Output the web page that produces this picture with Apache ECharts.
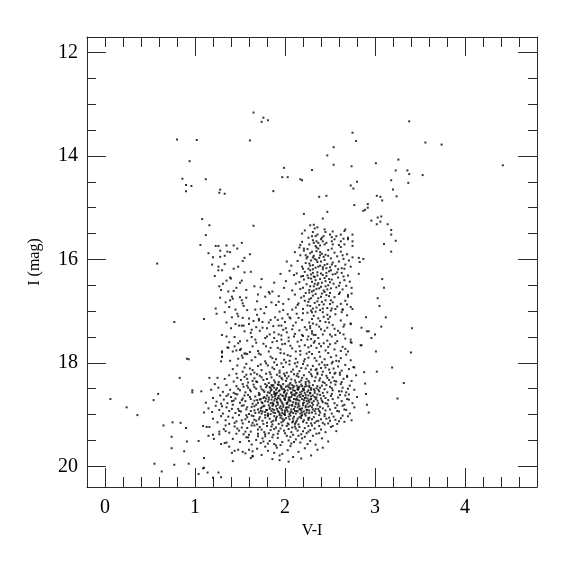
<!DOCTYPE html>
<html><head><meta charset="utf-8">
<script src="https://cdn.jsdelivr.net/npm/echarts@6/dist/echarts.min.js"></script>
<style>html,body{margin:0;padding:0;background:#fff}#c{width:575px;height:575px}</style>
</head><body><div id="c"></div>
<script>
// ---- tick labels / ticks ----
const xMajorTicks = [0, 1, 2, 3, 4];
const xMinorTicks = [0.2,0.4,0.6,0.8,1.2,1.4,1.6,1.8,2.2,2.4,2.6,2.8,3.2,3.4,3.6,3.8,4.2,4.4,4.6];
const xTopMajor = [1, 2, 3, 4];
const xTopMinor = [0,0.2,0.4,0.6,0.8,1.2,1.4,1.6,1.8,2.2,2.4,2.6,2.8,3.2,3.4,3.6,3.8,4.2,4.4,4.6];
const yMajorTicks = [12, 14, 16, 18, 20];
const yMinorTicks = [12.5,13,13.5,14.5,15,15.5,16.5,17,17.5,18.5,19,19.5];

// ---- data [V-I, I] ----
const brightStars = [[1.65,13.16],[1.76,13.26],[1.74,13.34],[1.81,13.31],[0.80,13.68],[1.02,13.69],[1.61,13.70],[0.94,14.10],[0.86,14.44],[1.12,14.45],[0.90,14.56],[0.96,14.58],[0.90,14.68],[1.28,14.65],[1.27,14.71],[1.33,14.73],[1.08,15.22],[1.16,15.34],[1.65,15.35],
[2.75,13.55],[2.79,13.71],[3.38,13.33],[3.56,13.74],[3.74,13.78],[4.42,14.18],[2.54,13.83],[2.47,13.99],[2.54,14.17],[2.74,14.20],[3.01,14.14],[3.26,14.07],[3.23,14.28],[3.36,14.28],[3.38,14.35],[3.53,14.37],[3.18,14.47],[3.37,14.52],[3.20,14.65],[3.24,14.78],[3.02,14.77],[3.06,14.79],[3.08,14.86],[1.99,14.23],[1.97,14.41],[2.03,14.41],[1.87,14.68],[2.30,14.27],[2.17,14.45],[2.19,14.47],[2.73,14.57],[2.76,14.63],[2.80,14.50],[2.38,14.79],[2.46,14.77],[2.77,14.95],[2.92,14.93],[2.92,15.0],[2.89,15.04],[2.87,15.06],[2.47,15.08],[2.21,15.12],[2.42,15.21],[2.96,15.25],[3.03,15.19],[3.07,15.17],[3.06,15.27],[3.02,15.32],[3.14,15.32],[3.18,15.43],[3.18,15.52],[3.23,15.64],[3.10,15.70],[3.18,15.85],[3.08,16.38]];

const redSparse = [[2.82,15.97],[2.87,15.99],[2.83,16.05],[2.82,16.28],[2.90,17.12],[2.85,17.32],[2.91,17.39],[2.93,17.39],[2.96,17.52],[3.01,17.78],[2.84,17.66],[2.73,17.55],[2.73,17.6],[2.67,17.73],[2.66,17.26],[2.73,17.25],[2.64,16.97],[2.75,16.96],[2.70,16.72],[2.74,16.66],
[2.85,17.66],[3.02,18.17],[3.19,18.09],[3.32,18.39],[3.25,18.69],[2.88,18.18],[2.89,18.40],[2.90,18.60],[2.91,18.81],[2.93,18.96],[2.77,18.09],[3.41,17.33],[3.40,17.80],[3.12,17.12],[3.05,16.9],[3.0,17.45],[3.07,17.3],[3.03,16.75],[3.1,16.55]];

const faintSparse = [[0.58,16.08],[0.77,17.21],[0.91,17.92],[0.06,18.70],[0.24,18.86],[0.36,19.01],[0.54,18.72],[0.59,18.6],[0.93,17.93],[0.83,18.29],[1.16,18.29],[0.97,18.53],[0.97,18.57],[1.07,18.55],[0.65,19.21],[0.75,19.15],[0.84,19.16],[0.9,19.26],[0.74,19.43],[0.91,19.52],[0.74,19.65],[0.88,19.71],[1.04,19.51],[1.09,19.22],[1.13,19.24],[0.55,19.95],[0.63,20.1],[0.77,19.97],[0.93,19.95],[1.10,19.84],[1.10,20.03],
[1.04,20.15],[1.09,20.04],[1.14,20.12],[1.20,20.22],[1.26,20.12],[1.29,20.21],[1.41,19.74],[1.42,19.9],[1.44,19.70],[1.53,19.72],[1.60,19.68],[1.64,19.80],[1.15,19.41],[1.20,19.39],[1.27,19.33],[1.34,19.32],[1.29,19.57],[1.35,19.54],[2.04,19.91],[1.94,19.79],[1.64,19.81],
[1.18,18.52],[1.12,18.77],[1.22,18.41],[1.16,19.24],[1.27,19.38],[1.21,19.47],[1.1,18.96],[1.25,18.29],[1.33,19.55],[1.38,19.62],[1.30,17.78],[1.29,17.97],[1.30,17.88],[1.46,17.76],[1.50,17.75],[1.56,17.82]];

const subgiantBranch = [[1.12,15.53],[1.06,15.72],[1.23,15.74],[1.26,15.74],[1.35,15.73],[1.43,15.73],[1.52,15.68],[1.28,15.83],[1.36,15.85],[1.39,15.86],[1.15,15.88],[1.61,15.90],[1.28,15.95],[1.55,15.97],[1.53,16.03],[1.33,16.09],[1.26,16.14],[1.30,16.21],[1.26,16.21],[1.48,16.14],[1.22,16.32],[1.55,16.25],[1.39,16.35],[1.40,16.37],[1.52,16.41],[1.50,16.45],[1.31,16.47],[1.27,16.52],[1.29,16.59],[1.37,16.62],[1.43,16.61],[1.57,16.59],[1.73,16.54],[1.41,16.72],[1.42,16.76],[1.34,16.83],[1.39,16.79],[1.50,16.73],[1.52,16.79],[1.53,16.85],[1.54,16.90],[1.45,16.97],[1.47,17.05],[1.82,16.63],[1.83,16.66],[1.93,16.71],[1.93,16.82],[1.69,16.81],[1.67,16.97],[1.73,16.96],[1.23,16.95],[1.24,17.05],[1.10,17.15],[1.48,17.10],[1.53,17.13],[1.60,17.14],[1.49,17.28],[1.52,17.28],[1.54,17.28],[1.71,17.15],[1.71,17.18],[1.75,17.21],[1.84,17.17],[1.89,17.12],[1.92,17.17],[1.93,17.28],[1.80,17.33],[2.00,17.21],[2.06,17.14],[1.30,17.46],[1.35,17.49],[1.44,17.50],[1.38,17.60],[1.36,17.70],[1.37,17.71],[1.30,17.80],[1.30,17.88],[1.51,17.73]];

const transition = [[1.62,17.42],[1.67,17.55],[1.72,17.38],[1.76,17.63],[1.8,17.49],[1.84,17.71],[1.88,17.41],[1.91,17.58],[1.95,17.74],[1.98,17.36],[1.64,17.68],[1.7,17.77],[1.78,17.52],[1.86,17.6],[1.93,17.45],[1.58,17.57],[1.55,17.39],[1.6,17.25],[1.68,17.31],[1.77,17.04],[1.87,17.29],[1.94,17.01],[1.98,16.86],[1.85,16.83],[1.78,16.72],[1.66,16.52],[1.74,16.38],[1.88,16.45],[1.95,16.28],[1.62,16.24],[1.69,17.07],[1.57,16.74],[1.63,17.5],[1.82,17.78],[1.97,17.64],[1.45,17.25],[1.41,17.12],[1.35,17.22],[1.48,17.62],[1.42,17.78],[1.55,17.82],[1.4,17.33],[1.33,17.02],[1.38,16.92],[1.28,16.74],[1.46,16.55],[1.35,16.41],[1.43,16.18],[1.33,15.93],[1.47,15.79],[1.2,15.96],[1.19,16.1],
[2.02,16.04],[2.07,16.12],[2.05,16.22],[2.1,16.3],[1.99,16.55],[2.08,16.6],[2.04,16.77],[2.12,16.93],[1.98,16.98],[2.03,17.06],[1.96,17.28],[2.08,17.35],
[1.73,17.84],[1.86,17.91],[1.99,17.82],[2.05,17.96],[1.61,17.79],[1.79,17.68],[1.92,17.71],[2.04,17.58],[1.68,17.61],[1.83,17.45],[1.96,17.55],[2.1,17.49],[1.75,17.32],[1.88,17.52],[2.01,17.33],[1.65,17.19],[1.82,17.22],[1.97,17.14],[2.08,16.97],[1.9,16.88],[1.79,16.92],[1.7,16.68],[1.86,16.62],[2.01,16.42],[1.58,16.98],[1.63,17.36],[1.5,17.58],[1.44,17.68],[1.53,17.9],[1.39,17.96]];

const giantBranch = [[2.28,15.34],[2.32,15.33],[2.36,15.38],[2.33,15.40],[2.19,15.50],[2.45,15.47],[2.50,15.52],[2.57,15.55],[2.67,15.42],[2.66,15.45],[2.75,15.52],[2.30,15.55],[2.34,15.55],[2.43,15.55],[2.52,15.57],[2.31,15.63],[2.35,15.65],[2.32,15.68],[2.37,15.68],[2.42,15.65],[2.44,15.71],[2.52,15.65],[2.60,15.72],[2.62,15.65],[2.65,15.60],[2.70,15.61],[2.75,15.65],[2.75,15.74],[2.62,15.76],[2.19,15.66],[2.17,15.72],[2.16,15.77],[2.25,15.80],[2.37,15.79],
[2.22,15.44],[2.26,15.58],[2.31,15.47],[2.36,15.52],[2.4,15.61],[2.44,15.42],[2.53,15.46],[2.62,15.52],[2.66,15.71],[2.7,15.58],[2.39,15.73],[2.46,15.68],[2.35,15.77],[2.52,15.79],[2.21,15.79],
[2.11,15.86],[2.14,16.03],[2.17,15.92],[2.19,16.14],[2.21,15.83],[2.23,16.07],[2.25,15.95],[2.26,16.18],[2.28,15.88],[2.29,16.02],[2.31,16.11],[2.32,15.93],[2.34,16.16],[2.35,15.84],[2.36,16.05],[2.38,15.97],[2.39,16.12],[2.41,15.89],[2.42,16.19],[2.44,16.01],[2.45,15.91],[2.47,16.09],[2.48,15.82],[2.5,16.15],[2.51,15.98],[2.53,16.06],[2.55,15.87],[2.56,16.13],[2.58,15.94],[2.6,16.04],[2.62,15.85],[2.63,16.17],[2.65,15.99],[2.67,16.1],[2.69,15.9],[2.71,16.02],[2.73,16.14],[2.75,15.96],[2.27,16.08],[2.33,15.99],[2.37,16.14],[2.4,16.04],[2.43,15.95],[2.46,16.17],[2.3,15.85],[2.24,15.98],[2.2,16.18],[2.52,16.1],[2.59,16.19],[2.64,15.92],[2.35,16.01],[2.39,15.86],[2.44,16.11],[2.31,16.19],[2.28,16.12],
[2.13,16.27],[2.16,16.44],[2.18,16.33],[2.2,16.55],[2.22,16.24],[2.24,16.48],[2.26,16.36],[2.27,16.59],[2.29,16.29],[2.3,16.43],[2.32,16.52],[2.33,16.34],[2.35,16.57],[2.36,16.25],[2.37,16.46],[2.39,16.38],[2.4,16.53],[2.42,16.3],[2.43,16.6],[2.45,16.42],[2.46,16.32],[2.48,16.5],[2.49,16.23],[2.51,16.56],[2.52,16.39],[2.54,16.47],[2.56,16.28],[2.57,16.54],[2.59,16.35],[2.61,16.45],[2.63,16.26],[2.64,16.58],[2.66,16.4],[2.68,16.51],[2.7,16.31],[2.72,16.43],[2.74,16.55],[2.31,16.26],[2.34,16.4],[2.38,16.56],[2.41,16.45],[2.44,16.36],[2.47,16.58],[2.25,16.31],[2.21,16.39],[2.28,16.52],[2.53,16.29],[2.6,16.51],[2.65,16.33],[2.36,16.49],[2.4,16.27],[2.45,16.52],[2.32,16.6],[2.29,16.37],[2.5,16.44],
[2.11,16.68],[2.15,16.85],[2.18,16.74],[2.2,16.96],[2.23,16.65],[2.25,16.89],[2.27,16.77],[2.29,16.99],[2.31,16.7],[2.33,16.84],[2.35,16.93],[2.37,16.75],[2.39,16.98],[2.41,16.66],[2.43,16.87],[2.45,16.79],[2.47,16.94],[2.49,16.71],[2.51,16.99],[2.53,16.83],[2.55,16.73],[2.58,16.91],[2.61,16.64],[2.64,16.97],[2.67,16.8],[2.7,16.69],[2.73,16.92],[2.3,16.62],[2.26,16.82],[2.34,16.67],[2.38,16.88],[2.42,16.95],[2.46,16.69],[2.22,16.8],[2.5,16.86],[2.56,16.96],[2.36,16.81],[2.28,16.9],[2.4,16.72],[2.62,16.86],
[2.05,17.12],[2.09,17.28],[2.13,17.05],[2.16,17.37],[2.19,17.17],[2.22,17.31],[2.25,17.03],[2.27,17.22],[2.3,17.39],[2.32,17.09],[2.35,17.26],[2.37,17.14],[2.4,17.35],[2.42,17.02],[2.45,17.21],[2.47,17.32],[2.5,17.11],[2.53,17.27],[2.56,17.06],[2.59,17.38],[2.62,17.18],[2.65,17.3],[2.69,17.08],[2.73,17.24],[2.28,17.33],[2.34,17.01],[2.39,17.19],[2.44,17.38],[2.2,17.04],[2.24,17.36],[2.48,17.15],[2.55,17.34],[2.31,17.24],[2.38,17.3],[2.12,17.22],
[1.96,17.47],[2.0,17.63],[2.04,17.51],[2.08,17.72],[2.11,17.44],[2.14,17.59],[2.17,17.77],[2.2,17.48],[2.22,17.66],[2.25,17.55],[2.27,17.79],[2.3,17.43],[2.32,17.61],[2.35,17.71],[2.37,17.52],[2.4,17.68],[2.42,17.45],[2.45,17.76],[2.47,17.57],[2.5,17.64],[2.52,17.49],[2.55,17.74],[2.58,17.58],[2.61,17.42],[2.64,17.69],[2.67,17.53],[2.7,17.78],[2.74,17.61],[2.29,17.54],[2.34,17.46],[2.38,17.79],[2.43,17.62],[2.18,17.56],[2.06,17.67],[2.48,17.69],[2.56,17.46],[2.26,17.7],[2.02,17.41],[2.62,17.77],[2.12,17.78],
[2.29,16.75],[2.31,16.95],[2.3,17.15],[2.32,17.46],[2.29,17.67],[2.33,16.47],[2.28,16.21],[2.31,15.96],[2.34,15.74],[2.3,17.02],[2.27,16.64],[2.32,16.33],[2.26,17.49],[2.33,17.58],[2.28,17.29],[2.5,16.65],[2.52,16.95],[2.49,17.22],[2.51,16.21],[2.48,15.93],[2.53,15.71],[2.49,16.38],[2.5,17.45],[2.51,16.79],[2.47,17.07],[2.17,16.57],[2.14,16.88],[2.19,17.46],[2.15,17.13],[2.21,16.71],[2.16,17.68],[2.12,16.47],[2.42,16.15],[2.41,16.82],[2.43,17.11],[2.38,17.63],[2.44,16.63],[2.36,16.31],[2.39,15.92],[2.6,16.67],[2.58,16.25],[2.63,17.02],[2.66,16.18],[2.69,16.87],[2.56,17.62],[2.65,17.45],[2.23,15.92],[2.2,16.32],[2.27,15.71],[2.41,15.58],[2.55,15.61],[2.46,16.26]];

const clumpUpper = [[1.52,17.86],[1.63,17.95],[1.71,17.82],[1.78,17.97],[1.84,17.88],[1.9,17.93],[1.95,17.81],[2.01,17.99],[2.06,17.87],[2.12,17.92],[2.17,17.84],[2.21,17.97],[2.26,17.9],[2.3,17.83],[2.35,17.96],[2.39,17.88],[2.44,17.93],[2.48,17.81],[2.53,17.98],[2.57,17.86],[2.62,17.91],[2.68,17.84],[2.73,17.95],[1.48,17.92],[1.58,17.83],[1.88,17.99],[2.03,17.85],[2.24,17.82],[2.33,17.91],[2.41,17.99],[2.51,17.89],[2.6,17.97],[1.67,17.89],[1.99,17.94],[2.14,17.99],
[1.42,18.12],[1.47,18.05],[1.53,18.17],[1.57,18.02],[1.61,18.11],[1.66,18.19],[1.7,18.06],[1.74,18.14],[1.79,18.01],[1.83,18.18],[1.86,18.09],[1.91,18.04],[1.94,18.15],[1.98,18.08],[2.02,18.19],[2.05,18.03],[2.09,18.13],[2.13,18.07],[2.16,18.16],[2.2,18.02],[2.23,18.11],[2.27,18.18],[2.31,18.06],[2.34,18.14],[2.38,18.03],[2.42,18.17],[2.45,18.09],[2.49,18.13],[2.52,18.01],[2.56,18.19],[2.59,18.07],[2.63,18.15],[2.67,18.04],[2.71,18.12],[2.76,18.08],[1.88,18.12],[1.96,18.01],[2.07,18.17],[2.18,18.1],[2.29,18.13],[2.36,18.19],[2.47,18.04],[2.54,18.11],[1.73,18.03],[1.64,18.14],[2.11,18.01],[2.25,18.05],[2.4,18.1],[2.61,18.19],[1.55,18.09],
[1.33,18.31],[1.38,18.24],[1.43,18.36],[1.46,18.21],[1.51,18.33],[1.55,18.27],[1.59,18.38],[1.62,18.22],[1.66,18.3],[1.69,18.37],[1.72,18.25],[1.76,18.33],[1.79,18.21],[1.82,18.39],[1.85,18.28],[1.88,18.34],[1.91,18.23],[1.93,18.37],[1.96,18.29],[1.99,18.21],[2.01,18.35],[2.04,18.26],[2.07,18.32],[2.1,18.22],[2.12,18.38],[2.15,18.27],[2.18,18.34],[2.21,18.24],[2.24,18.31],[2.27,18.38],[2.3,18.26],[2.33,18.35],[2.36,18.22],[2.39,18.3],[2.42,18.37],[2.46,18.25],[2.49,18.33],[2.53,18.28],[2.57,18.36],[2.61,18.23],[2.65,18.31],[2.69,18.27],[2.74,18.35],[2.79,18.24],[1.84,18.22],[1.97,18.32],[2.06,18.39],[2.14,18.21],[2.19,18.29],[2.26,18.35],[2.34,18.28],[2.41,18.23],[2.51,18.38],[1.74,18.28],[1.64,18.35],[1.57,18.23],[1.94,18.26],[2.02,18.3],[2.23,18.37],[2.38,18.34],[2.55,18.21],[2.11,18.34],[1.89,18.38],[2.29,18.22],[2.47,18.29],[1.8,18.31],[2.0,18.25],[2.16,18.37],[2.44,18.39],[2.63,18.37]];

const clumpMiddle = [[1.26,18.48],[1.31,18.56],[1.35,18.43],[1.39,18.52],[1.43,18.58],[1.46,18.45],[1.5,18.53],[1.53,18.41],[1.56,18.57],[1.59,18.48],[1.62,18.55],[1.65,18.42],[1.68,18.5],[1.71,18.58],[1.73,18.46],[1.76,18.53],[1.78,18.41],[1.81,18.57],[1.83,18.47],[1.85,18.52],[1.87,18.43],[1.89,18.59],[1.91,18.49],[1.93,18.55],[1.95,18.44],[1.97,18.51],[1.99,18.57],[2.01,18.46],[2.03,18.53],[2.05,18.42],[2.07,18.58],[2.09,18.48],[2.11,18.54],[2.13,18.44],[2.15,18.51],[2.17,18.57],[2.19,18.45],[2.21,18.53],[2.23,18.41],[2.25,18.56],[2.27,18.47],[2.29,18.52],[2.31,18.43],[2.33,18.58],[2.35,18.49],[2.38,18.55],[2.41,18.44],[2.44,18.51],[2.47,18.57],[2.5,18.46],[2.53,18.53],[2.56,18.42],[2.6,18.55],[2.64,18.48],[2.68,18.57],[2.72,18.44],[2.77,18.52],[1.84,18.49],[1.88,18.56],[1.92,18.42],[1.96,18.48],[2.0,18.54],[2.04,18.47],[2.08,18.43],[2.12,18.59],[2.16,18.46],[2.2,18.5],[2.24,18.45],[2.28,18.59],[2.32,18.51],[2.36,18.45],[1.8,18.44],[1.74,18.51],[1.66,18.47],[1.58,18.44],[1.48,18.5],[2.42,18.58],[2.52,18.49],[2.62,18.41],[2.7,18.5],[1.98,18.41],[2.06,18.5],[2.14,18.49],[2.22,18.58],[1.9,18.52],[1.86,18.45],[2.02,18.59],[2.18,18.42],[2.26,18.53],[2.39,18.48],
[1.2,18.68],[1.24,18.75],[1.28,18.63],[1.32,18.71],[1.36,18.78],[1.4,18.66],[1.43,18.73],[1.47,18.61],[1.5,18.77],[1.53,18.69],[1.56,18.74],[1.59,18.62],[1.62,18.7],[1.64,18.79],[1.67,18.65],[1.69,18.72],[1.72,18.61],[1.74,18.76],[1.76,18.68],[1.78,18.74],[1.8,18.63],[1.82,18.71],[1.84,18.78],[1.86,18.66],[1.88,18.73],[1.9,18.61],[1.92,18.77],[1.94,18.69],[1.96,18.75],[1.98,18.64],[2.0,18.72],[2.02,18.79],[2.04,18.67],[2.06,18.74],[2.08,18.62],[2.1,18.7],[2.12,18.77],[2.14,18.65],[2.16,18.73],[2.18,18.61],[2.2,18.78],[2.22,18.68],[2.24,18.74],[2.26,18.63],[2.28,18.71],[2.3,18.77],[2.33,18.66],[2.36,18.73],[2.39,18.62],[2.42,18.76],[2.45,18.68],[2.48,18.72],[2.51,18.64],[2.55,18.78],[2.59,18.67],[2.63,18.74],[2.67,18.63],[2.71,18.71],[2.75,18.78],[2.8,18.66],[1.85,18.62],[1.89,18.69],[1.93,18.64],[1.97,18.78],[2.01,18.65],[2.05,18.71],[2.09,18.76],[2.13,18.69],[2.17,18.66],[2.21,18.72],[2.25,18.79],[2.29,18.65],[2.34,18.7],[1.81,18.75],[1.77,18.66],[1.73,18.7],[1.7,18.77],[1.61,18.66],[1.55,18.63],[1.45,18.69],[2.4,18.69],[2.47,18.79],[2.53,18.7],[2.61,18.62],[2.69,18.7],[1.95,18.61],[2.03,18.76],[2.11,18.63],[2.19,18.7],[2.27,18.76],[2.37,18.78],[1.87,18.79],[1.99,18.69],[2.07,18.66],[2.15,18.78],[2.23,18.62],[1.91,18.71],[2.31,18.63],[1.66,18.73],[1.35,18.64]];

const clumpLower = [[1.15,18.88],[1.19,18.95],[1.23,18.83],[1.27,18.91],[1.31,18.98],[1.35,18.86],[1.38,18.93],[1.42,18.81],[1.45,18.97],[1.48,18.89],[1.51,18.94],[1.54,18.82],[1.57,18.9],[1.6,18.99],[1.63,18.85],[1.66,18.92],[1.68,18.81],[1.71,18.96],[1.73,18.88],[1.75,18.94],[1.77,18.83],[1.79,18.91],[1.81,18.98],[1.83,18.86],[1.85,18.93],[1.87,18.81],[1.89,18.97],[1.91,18.89],[1.93,18.95],[1.95,18.84],[1.97,18.92],[1.99,18.99],[2.01,18.87],[2.03,18.94],[2.05,18.82],[2.07,18.9],[2.09,18.97],[2.11,18.85],[2.13,18.93],[2.15,18.81],[2.17,18.98],[2.19,18.88],[2.21,18.94],[2.23,18.83],[2.25,18.91],[2.27,18.97],[2.3,18.86],[2.33,18.93],[2.36,18.82],[2.39,18.96],[2.42,18.88],[2.45,18.92],[2.48,18.84],[2.52,18.98],[2.56,18.87],[2.6,18.94],[2.64,18.83],[2.68,18.91],[2.72,18.98],[2.77,18.86],[1.82,18.82],[1.86,18.89],[1.9,18.84],[1.94,18.98],[1.98,18.85],[2.02,18.91],[2.06,18.96],[2.1,18.89],[2.14,18.86],[2.18,18.92],[2.22,18.99],[2.26,18.85],[2.31,18.9],[1.78,18.95],[1.74,18.86],[1.7,18.9],[1.67,18.97],[1.58,18.86],[1.52,18.83],[1.41,18.89],[2.37,18.89],[2.44,18.99],[2.5,18.9],[2.58,18.82],[2.66,18.9],[1.92,18.81],[2.0,18.96],[2.08,18.83],[2.16,18.9],[2.24,18.96],[2.34,18.98],[1.84,18.99],[1.96,18.89],[2.04,18.86],[2.12,18.98],[2.2,18.82],[1.88,18.91],[2.28,18.83],[1.62,18.93],[1.3,18.84],
[1.2,19.08],[1.25,19.15],[1.29,19.03],[1.34,19.11],[1.38,19.18],[1.42,19.06],[1.46,19.13],[1.49,19.01],[1.53,19.17],[1.56,19.09],[1.6,19.14],[1.63,19.02],[1.66,19.1],[1.69,19.19],[1.72,19.05],[1.75,19.12],[1.78,19.01],[1.8,19.16],[1.83,19.08],[1.85,19.14],[1.88,19.03],[1.9,19.11],[1.93,19.18],[1.95,19.06],[1.98,19.13],[2.0,19.01],[2.03,19.17],[2.05,19.09],[2.08,19.15],[2.1,19.04],[2.13,19.12],[2.15,19.19],[2.18,19.07],[2.2,19.14],[2.23,19.02],[2.26,19.1],[2.29,19.17],[2.32,19.05],[2.35,19.13],[2.38,19.01],[2.42,19.16],[2.46,19.08],[2.5,19.12],[2.54,19.04],[2.58,19.18],[2.62,19.07],[2.66,19.14],[2.7,19.03],[2.74,19.11],[1.86,19.19],[1.91,19.04],[1.96,19.15],[2.01,19.07],[2.06,19.02],[2.11,19.18],[2.16,19.05],[2.21,19.11],[2.27,19.06],[2.33,19.16],[2.4,19.09],[2.48,19.17],[1.76,19.18],[1.71,19.09],[1.64,19.16],[1.58,19.05],[1.44,19.16],[1.37,19.04],[2.56,19.1],[2.64,19.02],[1.81,19.03],[1.99,19.1],[2.14,19.08],[2.24,19.16],[2.37,19.12],[1.94,19.01],[2.09,19.13],[2.19,19.01],[1.87,19.12],[2.04,19.19],[2.3,19.09],[1.68,19.12],[1.52,19.11],[2.44,19.03],[1.97,19.08],[2.12,19.15]];

const clumpCore = [[1.83,18.58],[1.97,18.63],[2.08,18.81],[2.19,18.55],[1.76,18.84],[2.27,18.92],[1.91,18.76],[2.03,18.44],[2.14,18.72],[1.87,18.96],[2.36,18.61],[1.79,18.47],[2.11,18.93],[1.94,18.87],[2.22,18.46],[2.05,18.67],[1.71,18.62],[2.31,18.81],[1.99,18.51],[2.16,18.84],[1.85,18.71],[2.41,18.73],[1.93,18.42],[2.07,18.94],[2.25,18.69],[1.8,18.91],[2.13,18.58],[1.96,19.02],[2.33,18.54],[1.89,18.64],[2.02,18.78],[2.18,19.03],[1.75,18.78],[2.29,18.49],[2.09,18.53],[1.92,18.93],[2.23,18.86],[1.84,18.54],[2.38,18.93],[2.0,18.69],[2.15,18.47],[1.78,19.06],[2.26,19.07],[1.95,18.72],[2.1,18.61],[2.35,18.67],[1.88,18.48],[2.04,19.04],[2.2,18.64],[1.73,18.93],
[1.82,18.67],[1.98,18.81],[2.12,18.71],[2.28,18.58],[1.9,19.07],[2.06,18.49],[2.24,18.91],[1.86,18.77],[2.01,18.62],[2.17,18.89],[2.32,18.74],[1.77,18.56],[1.94,18.53],[2.09,19.08],[2.21,18.77],[2.37,18.52],[1.83,18.89],[2.0,18.92],[2.14,18.52],[2.3,18.96],[1.72,18.71],[1.88,18.6],[2.04,18.72],[2.19,18.96],[2.43,18.64],[1.96,18.46],[2.12,18.8],[2.27,18.44],[1.81,19.01],[2.07,18.57],[2.23,18.67],[1.92,18.68],[2.39,18.85],[1.85,18.43],[2.02,18.86],[2.16,18.62],[2.34,18.89],[1.79,18.69],[1.97,18.97],[2.1,18.45],[2.26,18.73],[1.91,18.58],[2.05,18.99],[2.21,18.51],[1.74,18.98],[2.45,18.78],[1.86,18.83],[2.14,18.94],[2.29,18.7],[1.99,18.57],
[1.52,18.72],[1.61,18.52],[1.57,19.01],[1.66,18.84],[1.45,18.6],[1.54,18.46],[1.63,19.21],[1.49,18.93],[1.68,18.36],[1.41,18.74],[2.52,18.6],[2.58,18.93],[2.49,19.06],[2.63,18.55],[2.55,18.35],[2.66,18.81],[2.71,18.61],[2.6,19.13],[2.46,18.43],[2.69,18.25],[2.5,18.19],[2.44,18.04],[2.57,17.96],[2.35,18.12],[2.22,17.93],[2.13,18.25],[1.94,18.19],[1.81,18.05],[1.69,18.22],[1.58,18.31],[1.47,18.29],[1.37,18.61],[1.29,18.79],[1.34,19.21],[1.47,19.27],[1.59,19.44],[1.76,19.52],[1.9,19.6],[2.06,19.43],[2.19,19.46],[2.31,19.41],[2.44,19.19],[2.53,19.22],[2.38,19.36],[2.26,19.22],[2.08,19.25],[1.85,19.23],[1.7,19.29],[1.56,19.33],[1.65,19.03]];

const clumpFaint = [[1.32,19.28],[1.38,19.35],[1.44,19.23],[1.49,19.31],[1.54,19.38],[1.58,19.26],[1.62,19.33],[1.66,19.21],[1.7,19.37],[1.74,19.29],[1.77,19.34],[1.8,19.22],[1.84,19.3],[1.87,19.39],[1.9,19.25],[1.93,19.32],[1.97,19.21],[2.0,19.36],[2.04,19.28],[2.07,19.34],[2.11,19.23],[2.14,19.31],[2.18,19.38],[2.22,19.26],[2.26,19.33],[2.3,19.21],[2.35,19.37],[2.4,19.29],[2.45,19.34],[2.51,19.24],[2.57,19.32],[1.6,19.39],[1.82,19.36],[1.95,19.27],[2.02,19.22],[2.09,19.39],[2.16,19.24],[2.24,19.36],[2.33,19.27],[1.72,19.24],[1.88,19.28],[1.99,19.31],[2.12,19.27],[2.2,19.32],[1.52,19.25],[1.46,19.37],[2.38,19.22],[2.28,19.3],[1.78,19.38],[1.92,19.37],
[1.42,19.47],[1.5,19.53],[1.57,19.44],[1.63,19.58],[1.68,19.49],[1.73,19.55],[1.78,19.42],[1.83,19.51],[1.88,19.57],[1.92,19.45],[1.97,19.53],[2.02,19.41],[2.07,19.56],[2.12,19.48],[2.17,19.54],[2.22,19.43],[2.28,19.51],[2.34,19.58],[2.41,19.46],[2.48,19.52],[1.6,19.51],[1.75,19.46],[1.86,19.44],[1.95,19.59],[2.04,19.5],[2.15,19.41],[2.25,19.57],[1.81,19.56],[2.1,19.53],[1.7,19.42],
[1.48,19.68],[1.56,19.75],[1.62,19.84],[1.69,19.66],[1.74,19.78],[1.81,19.7],[1.86,19.86],[1.91,19.64],[1.97,19.76],[2.03,19.69],[2.09,19.82],[2.15,19.72],[2.22,19.65],[2.29,19.79],[2.36,19.68],[1.78,19.62],[1.94,19.88],[2.06,19.61],[2.18,19.85],[1.64,19.71],[2.42,19.64],[1.88,19.74]];

const allStars = [].concat(brightStars, redSparse, faintSparse, subgiantBranch, transition, giantBranch, clumpUpper, clumpMiddle, clumpLower, clumpCore, clumpFaint);

// ---- chart ----
const FONT = 'Liberation Serif';
const LINE = '#2a2a2a';
const X_MIN = -0.2, X_MAX = 4.8, Y_MIN = 11.7, Y_MAX = 20.4;

function xAxisDef(pos, ticks, len, opts) {
  return Object.assign({
    type: 'value', position: pos, min: X_MIN, max: X_MAX, gridIndex: 0,
    axisLine: { show: false, onZero: false, lineStyle: { color: LINE, width: 1 } },
    axisTick: { show: true, inside: true, length: len, customValues: ticks, lineStyle: { color: LINE, width: 1 } },
    axisLabel: { show: false },
    splitLine: { show: false }
  }, opts || {});
}
function yAxisDef(pos, ticks, len, opts) {
  return Object.assign({
    type: 'value', position: pos, min: Y_MIN, max: Y_MAX, inverse: true, gridIndex: 0,
    axisLine: { show: false, onZero: false, lineStyle: { color: LINE, width: 1 } },
    axisTick: { show: true, inside: true, length: len, customValues: ticks, lineStyle: { color: LINE, width: 1 } },
    axisLabel: { show: false },
    splitLine: { show: false }
  }, opts || {});
}

const chart = echarts.init(document.getElementById('c'), null, { renderer: 'canvas' });
chart.setOption({
  animation: false,
  backgroundColor: '#fff',
  grid: { left: 87, top: 37, right: 38, bottom: 88, containLabel: false },
  xAxis: [
    xAxisDef('bottom', xMajorTicks, 19, {
      name: 'V-I', nameLocation: 'middle', nameGap: 30,
      nameTextStyle: { fontFamily: FONT, fontSize: 16, color: '#000' },
      axisLine: { show: true, onZero: false, lineStyle: { color: LINE, width: 1 } },
      axisLabel: { show: true, customValues: xMajorTicks, margin: 11, fontFamily: FONT, fontSize: 20, color: '#000' }
    }),
    xAxisDef('bottom', xMinorTicks, 10),
    xAxisDef('top', xTopMajor, 19, { axisLine: { show: true, onZero: false, lineStyle: { color: LINE, width: 1 } } }),
    xAxisDef('top', xTopMinor, 10)
  ],
  yAxis: [
    yAxisDef('left', yMajorTicks, 19, {
      name: 'I (mag)', nameLocation: 'middle', nameGap: 44, nameRotate: 90,
      nameTextStyle: { fontFamily: FONT, fontSize: 16, color: '#000' },
      axisLine: { show: true, onZero: false, lineStyle: { color: LINE, width: 1 } },
      axisLabel: { show: true, customValues: yMajorTicks, margin: 9, fontFamily: FONT, fontSize: 20, color: '#000' }
    }),
    yAxisDef('left', yMinorTicks, 9),
    yAxisDef('right', yMajorTicks, 19, { axisLine: { show: true, onZero: false, lineStyle: { color: LINE, width: 1 } } }),
    yAxisDef('right', yMinorTicks, 9)
  ],
  series: [{
    type: 'scatter', xAxisIndex: 0, yAxisIndex: 0,
    symbol: 'rect', symbolSize: 2,
    itemStyle: { color: '#000' },
    silent: true,
    data: allStars
  }]
});
</script></body></html>
